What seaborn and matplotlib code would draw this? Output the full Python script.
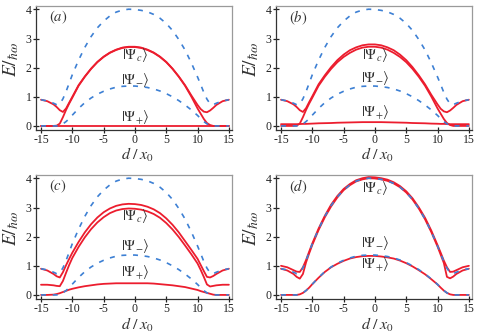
import matplotlib
matplotlib.use('Agg')
import matplotlib.pyplot as plt
import seaborn as sns

# separation grid, d / x0
d = [-15, -14, -13, -12.5, -12, -11.5, -11, -10.5, -10, -9, -8, -7, -6, -5, -4, -3, -2, -1, 0,
     1, 2, 3, 4, 5, 6, 7, 8, 9, 10, 10.5, 11, 11.5, 12, 12.5, 13, 14, 15]

# dashed reference curves (same in every panel)
upper_dashed = [0.90, 0.86, 0.78, 0.73, 0.76, 0.93, 1.18, 1.47, 1.76, 2.26, 2.70, 3.07, 3.37, 3.60, 3.78, 3.91, 3.98, 4.01, 4.00,
                3.97, 3.92, 3.83, 3.70, 3.52, 3.28, 2.97, 2.61, 2.17, 1.68, 1.42, 1.15, 0.92, 0.76, 0.73, 0.78, 0.86, 0.90]
lower_dashed = [0.00, 0.00, 0.00, 0.00, 0.02, 0.07, 0.15, 0.25, 0.37, 0.60, 0.80, 0.96, 1.09, 1.19, 1.27, 1.33, 1.36, 1.37, 1.37,
                1.35, 1.32, 1.27, 1.20, 1.11, 1.00, 0.87, 0.72, 0.55, 0.36, 0.25, 0.15, 0.07, 0.02, 0.00, 0.00, 0.00, 0.00]

# (a)
a_red1 = [0.90, 0.85, 0.74, 0.65, 0.54, 0.48, 0.60, 0.80, 1.00, 1.40, 1.70, 1.97, 2.20, 2.38, 2.52, 2.62, 2.69, 2.72, 2.72,
          2.69, 2.62, 2.52, 2.38, 2.20, 1.97, 1.70, 1.40, 1.05, 0.72, 0.58, 0.49, 0.47, 0.53, 0.62, 0.72, 0.85, 0.90]
a_red2 = [0.00, 0.00, 0.00, 0.01, 0.08, 0.30, 0.55, 0.77, 0.97, 1.38, 1.69, 1.96, 2.19, 2.37, 2.51, 2.61, 2.68, 2.71, 2.71,
          2.68, 2.61, 2.51, 2.37, 2.19, 1.96, 1.69, 1.38, 1.01, 0.60, 0.42, 0.24, 0.10, 0.03, 0.00, 0.00, 0.00, 0.00]
a_red3 = [0.00] * 37

# (b)
b_red1 = [0.90, 0.85, 0.74, 0.65, 0.54, 0.48, 0.61, 0.82, 1.02, 1.43, 1.74, 2.02, 2.26, 2.45, 2.60, 2.70, 2.77, 2.80, 2.80,
          2.77, 2.70, 2.60, 2.45, 2.26, 2.02, 1.74, 1.43, 1.07, 0.74, 0.59, 0.50, 0.47, 0.53, 0.62, 0.72, 0.85, 0.90]
b_red2 = [0.00, 0.00, 0.00, 0.01, 0.08, 0.30, 0.55, 0.77, 0.97, 1.38, 1.69, 1.96, 2.19, 2.37, 2.51, 2.62, 2.69, 2.72, 2.72,
          2.69, 2.62, 2.51, 2.37, 2.19, 1.96, 1.69, 1.38, 1.01, 0.60, 0.42, 0.24, 0.10, 0.03, 0.00, 0.00, 0.00, 0.00]
b_red3 = [0.06, 0.06, 0.06, 0.06, 0.065, 0.07, 0.07, 0.075, 0.08, 0.09, 0.095, 0.10, 0.11, 0.115, 0.12, 0.125, 0.13, 0.13, 0.13,
          0.13, 0.125, 0.12, 0.115, 0.11, 0.10, 0.095, 0.09, 0.08, 0.075, 0.07, 0.07, 0.065, 0.06, 0.06, 0.06, 0.06, 0.06]

# (c)
c_red1 = [0.90, 0.84, 0.72, 0.64, 0.60, 0.78, 1.02, 1.24, 1.45, 1.82, 2.15, 2.43, 2.66, 2.84, 2.97, 3.06, 3.11, 3.13, 3.12,
          3.09, 3.03, 2.94, 2.81, 2.63, 2.41, 2.15, 1.85, 1.55, 1.24, 1.03, 0.82, 0.62, 0.60, 0.65, 0.72, 0.84, 0.90]
c_red2 = [0.35, 0.35, 0.33, 0.31, 0.30, 0.48, 0.76, 1.03, 1.27, 1.65, 1.98, 2.26, 2.49, 2.67, 2.81, 2.90, 2.95, 2.97, 2.96,
          2.93, 2.87, 2.78, 2.65, 2.47, 2.25, 1.99, 1.70, 1.40, 1.08, 0.86, 0.62, 0.36, 0.29, 0.31, 0.33, 0.35, 0.35]
c_red3 = [0.00, 0.00, 0.01, 0.03, 0.06, 0.10, 0.14, 0.18, 0.21, 0.26, 0.30, 0.33, 0.36, 0.38, 0.39, 0.40, 0.40, 0.40, 0.40,
          0.40, 0.40, 0.39, 0.37, 0.35, 0.33, 0.30, 0.27, 0.22, 0.17, 0.13, 0.10, 0.07, 0.04, 0.01, 0.00, 0.00, 0.00]

# (d)
d_red1 = [1.00, 0.95, 0.85, 0.80, 0.79, 0.95, 1.20, 1.49, 1.77, 2.28, 2.72, 3.10, 3.40, 3.64, 3.81, 3.94, 4.01, 4.05, 4.04,
          4.01, 3.96, 3.87, 3.74, 3.56, 3.32, 3.01, 2.65, 2.21, 1.71, 1.45, 1.18, 0.95, 0.79, 0.80, 0.85, 0.95, 1.00]
d_red2 = [0.90, 0.84, 0.72, 0.62, 0.56, 0.72, 1.12, 1.43, 1.72, 2.23, 2.67, 3.04, 3.35, 3.60, 3.77, 3.90, 3.97, 4.01, 4.00,
          3.97, 3.92, 3.83, 3.70, 3.52, 3.28, 2.97, 2.60, 2.16, 1.66, 1.38, 1.10, 0.62, 0.57, 0.63, 0.72, 0.84, 0.90]
d_red3 = [0.00, 0.00, 0.00, 0.00, 0.02, 0.07, 0.15, 0.25, 0.37, 0.59, 0.79, 0.95, 1.07, 1.17, 1.25, 1.30, 1.33, 1.34, 1.34,
          1.32, 1.29, 1.25, 1.18, 1.09, 0.98, 0.85, 0.71, 0.54, 0.36, 0.25, 0.15, 0.07, 0.02, 0.00, 0.00, 0.00, 0.00]

panel_tags = ['a', 'b', 'c', 'd']
red_sets = [[a_red1, a_red2, a_red3], [b_red1, b_red2, b_red3],
            [c_red1, c_red2, c_red3], [d_red1, d_red2, d_red3]]
# label heights (|Psi_c>, |Psi_->, |Psi_+>) per panel
ket_y = [[2.43, 1.58, 0.30], [2.43, 1.63, 0.49], [2.71, 1.68, 0.80], [3.69, 1.77, 1.06]]
kets = [r'$|\Psi_{c}\rangle$', r'$|\Psi_{-}\rangle$', r'$|\Psi_{+}\rangle$']

sns.set_style('ticks')
plt.rcParams['font.family'] = ['Liberation Serif', 'DejaVu Serif']
plt.rcParams['mathtext.fontset'] = 'stix'
plt.rcParams['axes.unicode_minus'] = False

RED = '#ec1d2e'
BLUE = '#3d80d4'
INK = '#333333'

fig = plt.figure(figsize=(4.85, 3.36), dpi=100)
# left, top, width, height in pixels
boxes = [[36, 6, 196, 124], [276, 6, 196, 124], [36, 175, 196, 124], [276, 175, 196, 124]]
xlab_y = [-0.205, -0.205, -0.207, -0.207]

for i, tag in enumerate(panel_tags):
    l, t, w, h = boxes[i]
    ax = fig.add_axes([l / 485, 1 - (t + h) / 336, w / 485, h / 336])
    for ys in red_sets[i]:
        sns.lineplot(x=d, y=ys, ax=ax, color=RED, lw=1.3, sort=False,
                     estimator=None, solid_capstyle='round', solid_joinstyle='round')
    for ys in [upper_dashed, lower_dashed]:
        sns.lineplot(x=d, y=ys, ax=ax, color=BLUE, lw=1.2, sort=False,
                     estimator=None, linestyle=(0, (3, 4)))
    ax.set_xlim(-15.8, 15.5)
    ax.set_ylim(-0.14, 4.12)
    ax.set_xticks([-15, -10, -5, 0, 5, 10, 15])
    ax.set_yticks([0, 1, 2, 3, 4])
    ax.tick_params(direction='inout', length=4, width=0.9, labelsize=8.5,
                   pad=1.2, colors='#222222')
    for s in ['left', 'bottom']:
        ax.spines[s].set_color(INK)
        ax.spines[s].set_linewidth(0.9)
    for s in ['top', 'right']:
        ax.spines[s].set_visible(True)
        ax.spines[s].set_color('#9a9a9a')
        ax.spines[s].set_linewidth(0.9)
    ax.set_xlabel(r'$d\;/\;x_0$', fontsize=11.5, color=INK)
    ax.xaxis.set_label_coords(0.52, xlab_y[i])
    ax.xaxis.label.set_va('center')
    ax.set_ylabel(r'$E/_{\hbar\omega}$', fontsize=14, color=INK)
    ax.yaxis.set_label_coords(-0.125, 0.57)
    ax.yaxis.label.set_va('center')
    ax.text(-13.8, 3.72, r'$(' + tag + ')$', fontsize=10.5, ha='left', va='center', color=INK)
    for k in range(3):
        ax.text(0, ket_y[i][k], kets[k], fontsize=10.5, ha='center', va='center', color=INK)

fig.savefig('out.png', dpi=100)
